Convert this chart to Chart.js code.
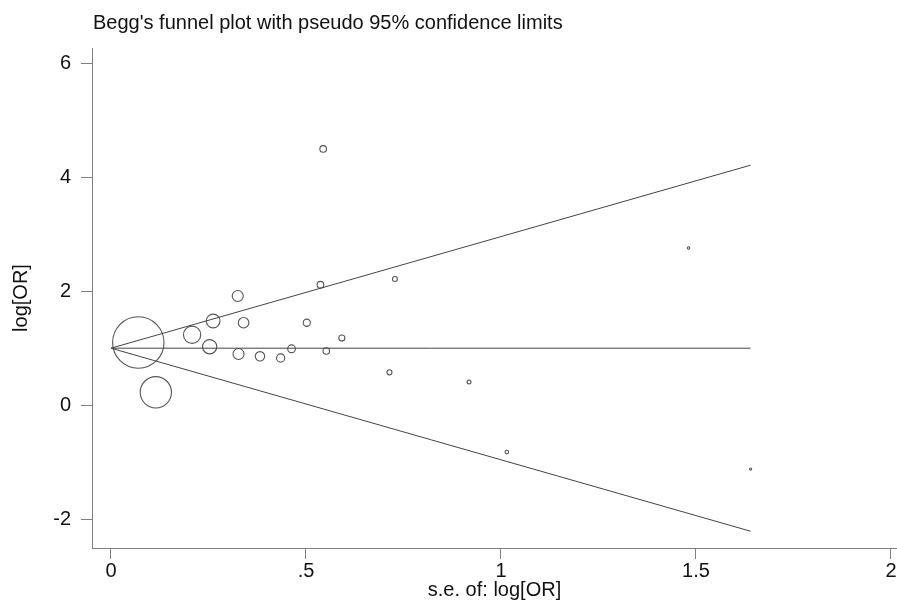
<!DOCTYPE html>
<html>
<head>
<meta charset="utf-8">
<script src="https://cdn.jsdelivr.net/npm/chart.js@4.4.0/dist/chart.umd.min.js"></script>
<style>
  html, body { margin: 0; padding: 0; background: #fff; }
  canvas { display: block; }
</style>
</head>
<body>
<canvas id="funnelChart" width="897" height="603"></canvas>
<script>
// === DATA ===
const seLogOR = [0.070, 0.115, 0.208, 0.253, 0.262, 0.325, 0.327, 0.340, 0.382, 0.435, 0.463,
                 0.502, 0.537, 0.544, 0.552, 0.592, 0.714, 0.728, 0.918, 1.015, 1.481, 1.640];
const logOR = [1.10, 0.225, 1.236, 1.026, 1.477, 1.916, 0.897, 1.447, 0.857, 0.827, 0.99,
               1.447, 2.115, 4.50, 0.95, 1.178, 0.576, 2.215, 0.405, -0.824, 2.76, -1.122];
const pooledLogOR = 1.0;   // fixed-effect estimate (horizontal line)
const seMax = 1.64;        // funnel drawn out to the largest s.e.
const xTicks = [0, 0.5, 1, 1.5, 2];
const xTickLabels = ['0', '.5', '1', '1.5', '2'];
const yTicks = [-2, 0, 2, 4, 6];

const FONT = "'Liberation Sans', Arial, sans-serif";
const AXIS = '#808080';
const INK = '#444';

const studies = seLogOR.map((s, i) => ({ x: s, y: logOR[i] }));
// pseudo 95% limits: pooled +/- 1.96*se
const upper = [{ x: 0, y: pooledLogOR }, { x: seMax, y: pooledLogOR + 1.96 * seMax }];
const lower = [{ x: 0, y: pooledLogOR }, { x: seMax, y: pooledLogOR - 1.96 * seMax }];
const middle = [{ x: 0, y: pooledLogOR }, { x: seMax, y: pooledLogOR }];

const lineDs = (data) => ({
    type: 'line', data, borderColor: INK, borderWidth: 1,
    pointRadius: 0, fill: false, tension: 0
});

// title drawn at the left edge of the plot, like Stata does
const titlePlugin = {
    id: 'stataTitle',
    afterDraw(chart) {
        const ctx = chart.ctx;
        ctx.save();
        ctx.font = '20px ' + FONT;
        ctx.fillStyle = '#111';
        ctx.textBaseline = 'alphabetic';
        ctx.fillText("Begg's funnel plot with pseudo 95% confidence limits", 93, 29);
        ctx.restore();
    }
};

new Chart(document.getElementById('funnelChart'), {
    type: 'scatter',
    data: {
        datasets: [
            lineDs(upper),
            lineDs(lower),
            lineDs(middle),
            {
                type: 'scatter',
                data: studies,
                pointStyle: 'circle',
                pointRadius: (c) => 1.8 / seLogOR[c.dataIndex],
                backgroundColor: 'rgba(0,0,0,0)',
                borderColor: '#555',
                borderWidth: 1.1
            }
        ]
    },
    options: {
        responsive: false,
        animation: false,
        layout: { autoPadding: false, padding: { top: 48, left: 0, right: 0, bottom: 0 } },
        plugins: {
            legend: { display: false },
            tooltip: { enabled: false }
        },
        scales: {
            x: {
                type: 'linear',
                min: -0.0487,
                max: 2.0154,
                afterBuildTicks: (s) => { s.ticks = xTicks.map(v => ({ value: v })); },
                afterFit: (s) => { s.height = 55; s.paddingLeft = 0; s.paddingRight = 0; },
                ticks: {
                    font: { size: 20, family: FONT },
                    color: '#111',
                    padding: 0,
                    maxRotation: 0,
                    autoSkip: false,
                    callback: (v) => xTickLabels[xTicks.indexOf(v)]
                },
                grid: { drawOnChartArea: false, drawTicks: true, tickLength: 11, color: AXIS },
                border: { display: true, color: AXIS },
                title: {
                    display: true,
                    text: 's.e. of: log[OR]',
                    font: { size: 20, family: FONT },
                    color: '#111',
                    padding: { top: 0, bottom: 1 }
                }
            },
            y: {
                type: 'linear',
                min: -2.509,
                max: 6.272,
                afterBuildTicks: (s) => { s.ticks = yTicks.map(v => ({ value: v })); },
                afterFit: (s) => { s.width = 92; s.paddingTop = 0; s.paddingBottom = 0; },
                ticks: {
                    font: { size: 20, family: FONT },
                    color: '#111',
                    padding: 10,
                    autoSkip: false
                },
                grid: { drawOnChartArea: false, drawTicks: true, tickLength: 11, color: AXIS },
                border: { display: true, color: AXIS },
                title: {
                    display: true,
                    text: 'log[OR]',
                    font: { size: 20, family: FONT },
                    color: '#111',
                    padding: { top: 9, bottom: 0 }
                }
            }
        }
    },
    plugins: [titlePlugin]
});
</script>
</body>
</html>
